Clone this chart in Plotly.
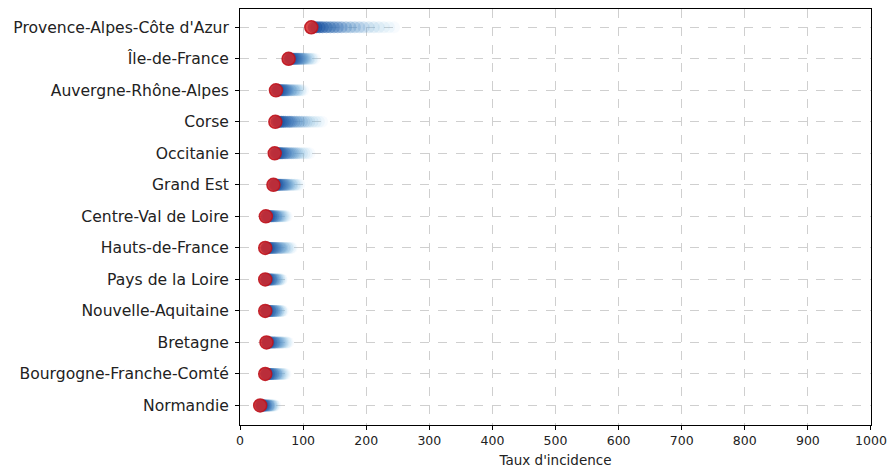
import plotly.graph_objects as go

regions = [
    "Normandie", "Bourgogne-Franche-Comté", "Bretagne", "Nouvelle-Aquitaine",
    "Pays de la Loire", "Hauts-de-France", "Centre-Val de Loire", "Grand Est",
    "Occitanie", "Corse", "Auvergne-Rhône-Alpes", "Île-de-France",
    "Provence-Alpes-Côte d'Azur",
]

# incidence history, oldest first, latest value last
history = {
    "Normandie": [56, 54, 53, 51, 50, 49, 47, 46, 45, 44, 42, 41, 40, 39, 38, 37, 36, 35, 34, 33, 32],
    "Bourgogne-Franche-Comté": [72, 70, 68, 66, 64, 62, 60, 58, 57, 55, 53, 52, 50, 49, 47, 46, 45, 43, 42, 41, 40],
    "Bretagne": [76, 74, 72, 69, 67, 65, 63, 61, 59, 57, 55, 54, 52, 50, 49, 47, 46, 45, 44, 43, 42],
    "Nouvelle-Aquitaine": [68, 66, 65, 63, 61, 60, 58, 57, 55, 54, 52, 51, 49, 48, 47, 45, 44, 43, 42, 41, 40],
    "Pays de la Loire": [66, 65, 63, 62, 60, 59, 57, 56, 54, 53, 51, 50, 49, 48, 46, 45, 44, 43, 42, 41, 40],
    "Hauts-de-France": [82, 80, 77, 75, 72, 70, 67, 65, 63, 60, 58, 56, 54, 52, 50, 48, 46, 45, 43, 42, 40],
    "Centre-Val de Loire": [74, 72, 70, 68, 66, 64, 62, 60, 58, 57, 55, 53, 52, 50, 49, 47, 46, 45, 43, 42, 41],
    "Grand Est": [94, 91, 88, 86, 83, 81, 78, 76, 74, 72, 70, 68, 66, 64, 62, 60, 59, 57, 56, 54, 53],
    "Occitanie": [110, 106, 102, 98, 94, 91, 88, 85, 82, 79, 76, 73, 71, 68, 66, 64, 62, 60, 58, 56, 55],
    "Corse": [130, 125, 120, 115, 110, 106, 102, 98, 94, 90, 86, 82, 79, 76, 72, 69, 66, 63, 61, 58, 56],
    "Auvergne-Rhône-Alpes": [100, 97, 95, 92, 90, 87, 85, 82, 80, 77, 75, 73, 71, 69, 67, 65, 63, 61, 60, 58, 57],
    "Île-de-France": [118, 115, 113, 110, 108, 105, 103, 101, 99, 97, 95, 93, 91, 89, 87, 85, 83, 81, 80, 78, 77],
    "Provence-Alpes-Côte d'Azur": [244, 236, 228, 220, 212, 204, 196, 189, 182, 175, 168, 161, 155, 149, 143, 137, 131, 126, 121, 117, 113],
}

x_ticks = [0, 100, 200, 300, 400, 500, 600, 700, 800, 900, 1000]

fig = go.Figure()

for i, r in enumerate(regions):
    vals = history[r]
    past = vals[:-1]
    n = len(past)
    opac = []
    cols = []
    for k in range(n):
        t = k / (n - 1)  # 0 = oldest (far right), 1 = newest (next to red)
        opac.append(0.07 + 0.65 * t ** 1.1)
        rr = int(150 - 125 * t)
        gg = int(205 - 125 * t)
        bb = int(235 - 75 * t)
        cols.append(f"rgb({rr},{gg},{bb})")
    fig.add_trace(go.Scatter(
        x=past, y=[i] * n, mode="markers",
        marker=dict(size=12, color=cols, opacity=opac, line=dict(width=0)),
        showlegend=False, hoverinfo="x",
    ))
    fig.add_trace(go.Scatter(
        x=[vals[-1]], y=[i], mode="markers",
        marker=dict(size=13, color="rgba(214,39,40,0.85)",
                    line=dict(width=1.5, color="rgba(190,20,30,0.9)")),
        showlegend=False, hoverinfo="x",
    ))

fig.update_layout(
    width=887, height=474,
    margin=dict(l=240, r=16, t=9, b=49),
    paper_bgcolor="white", plot_bgcolor="white",
    font=dict(family="DejaVu Sans", size=12, color="#222"),
    xaxis=dict(
        range=[0, 1000.01], tickvals=x_ticks, ticktext=[str(v) for v in x_ticks],
        tickfont=dict(size=12.5), ticklabeloverflow="allow",
        showgrid=True, gridcolor="#cfcfcf", griddash="dash", gridwidth=1,
        showline=True, linecolor="black", linewidth=1, mirror=True,
        ticks="outside", ticklen=4, tickcolor="black",
        zeroline=False, automargin=False,
        title=dict(text="Taux d'incidence", font=dict(size=13.5), standoff=8),
    ),
    yaxis=dict(
        range=[-0.62, 12.58], tickvals=list(range(len(regions))), ticktext=regions,
        tickfont=dict(size=15.6), ticklabelstandoff=3,
        showgrid=True, gridcolor="#cfcfcf", griddash="dash", gridwidth=1,
        showline=True, linecolor="black", linewidth=1, mirror=True,
        ticks="outside", ticklen=4, tickcolor="black",
        zeroline=False, automargin=False,
    ),
)

fig.write_html(
    "out.html",
    config={"displayModeBar": False},
    post_script="document.body.style.margin='0';document.body.style.overflow='hidden';",
)
